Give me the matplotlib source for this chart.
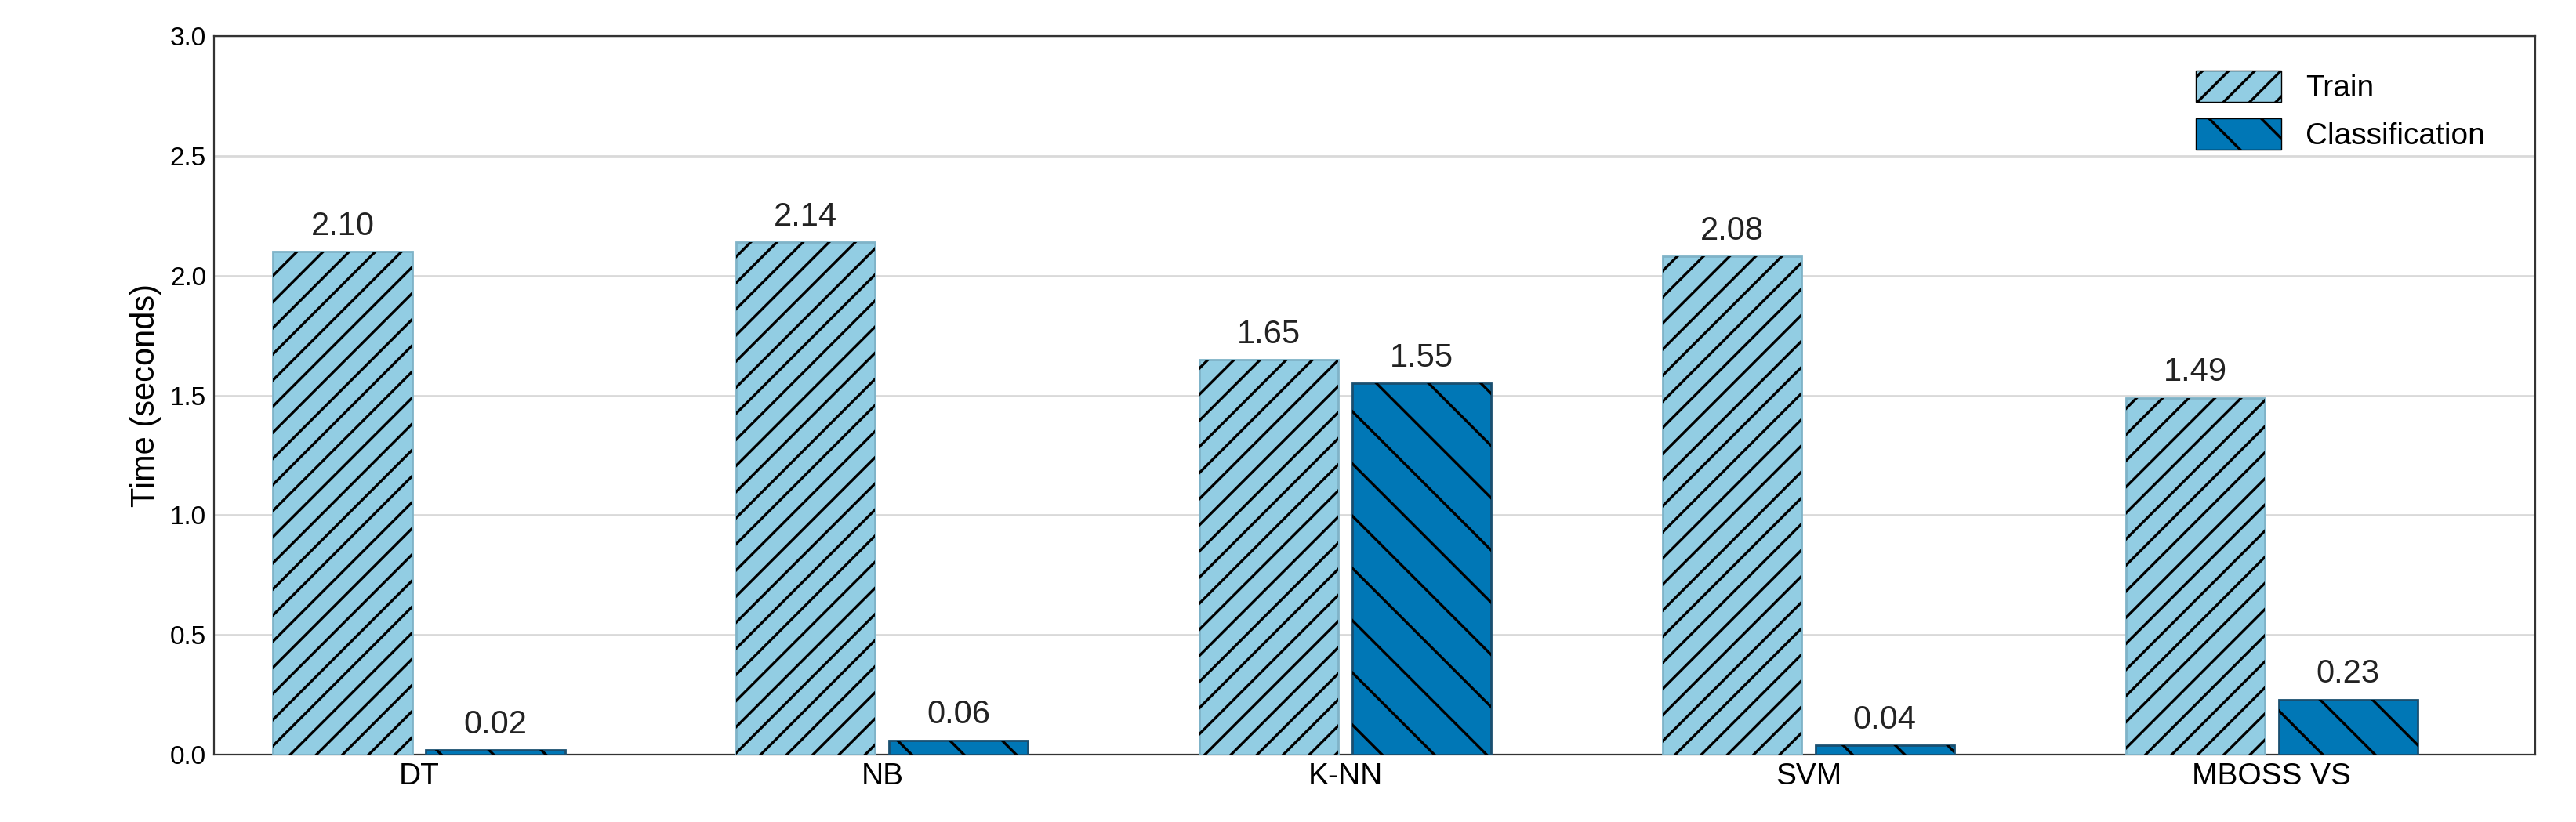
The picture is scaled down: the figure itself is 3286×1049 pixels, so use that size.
import matplotlib.pyplot as plt
import numpy as np

methods = ['DT', 'NB', 'K-NN', 'SVM', 'MBOSS VS']
train = [2.10, 2.14, 1.65, 2.08, 1.49]
classif = [0.02, 0.06, 1.55, 0.04, 0.23]

plt.rcParams['font.family'] = ['Liberation Sans', 'DejaVu Sans']
plt.rcParams['hatch.linewidth'] = 1.2
fig, ax = plt.subplots(figsize=(16.435, 5.245), dpi=200)
fig.subplots_adjust(left=0.083, right=0.984, top=0.956, bottom=0.082)

x = np.arange(len(methods))
w = 0.3
b1 = ax.bar(x - 0.165, train, w, color='#92cde3', edgecolor='#7fb3c8', label='Train', zorder=3)
b2 = ax.bar(x + 0.165, classif, w, color='#0077b6', edgecolor='#1a4f70', label='Classification', zorder=3)
# black hatching on top of the filled bars
ax.bar(x - 0.165, train, w, fill=False, edgecolor='black', linewidth=0, hatch='//', zorder=4)
ax.bar(x + 0.165, classif, w, fill=False, edgecolor='black', linewidth=0, hatch='\\', zorder=4)
for bars in (b1, b2):
    for r in bars:
        ax.text(r.get_x() + r.get_width() / 2, r.get_height() + 0.04, '%.2f' % r.get_height(),
                ha='center', va='bottom', fontsize=15, color='#222222')

ax.set_xlim(-0.443, 4.57)
ax.set_ylim(0, 3.0)
ax.set_yticks(np.arange(0, 3.01, 0.5))
ax.set_xticks(x)
ax.set_xticklabels(methods, fontsize=14)
ax.tick_params(axis='y', labelsize=12, length=0)
ax.tick_params(axis='x', length=0)
ax.set_ylabel('Time (seconds)', fontsize=15)
ax.yaxis.grid(True, color='#d9d9d9', linewidth=1, zorder=0)
for s in ax.spines.values():
    s.set_color('#333333')

from matplotlib.patches import Patch
handles = [Patch(facecolor='#92cde3', edgecolor='black', hatch='//', linewidth=0.5),
           Patch(facecolor='#0077b6', edgecolor='black', hatch='\\', linewidth=0.5)]
ax.legend(handles, ['Train', 'Classification'], loc='upper right', frameon=False, fontsize=14,
          handlelength=2.8, handleheight=1.2, bbox_to_anchor=(0.99, 0.99))

plt.savefig('out.png')
